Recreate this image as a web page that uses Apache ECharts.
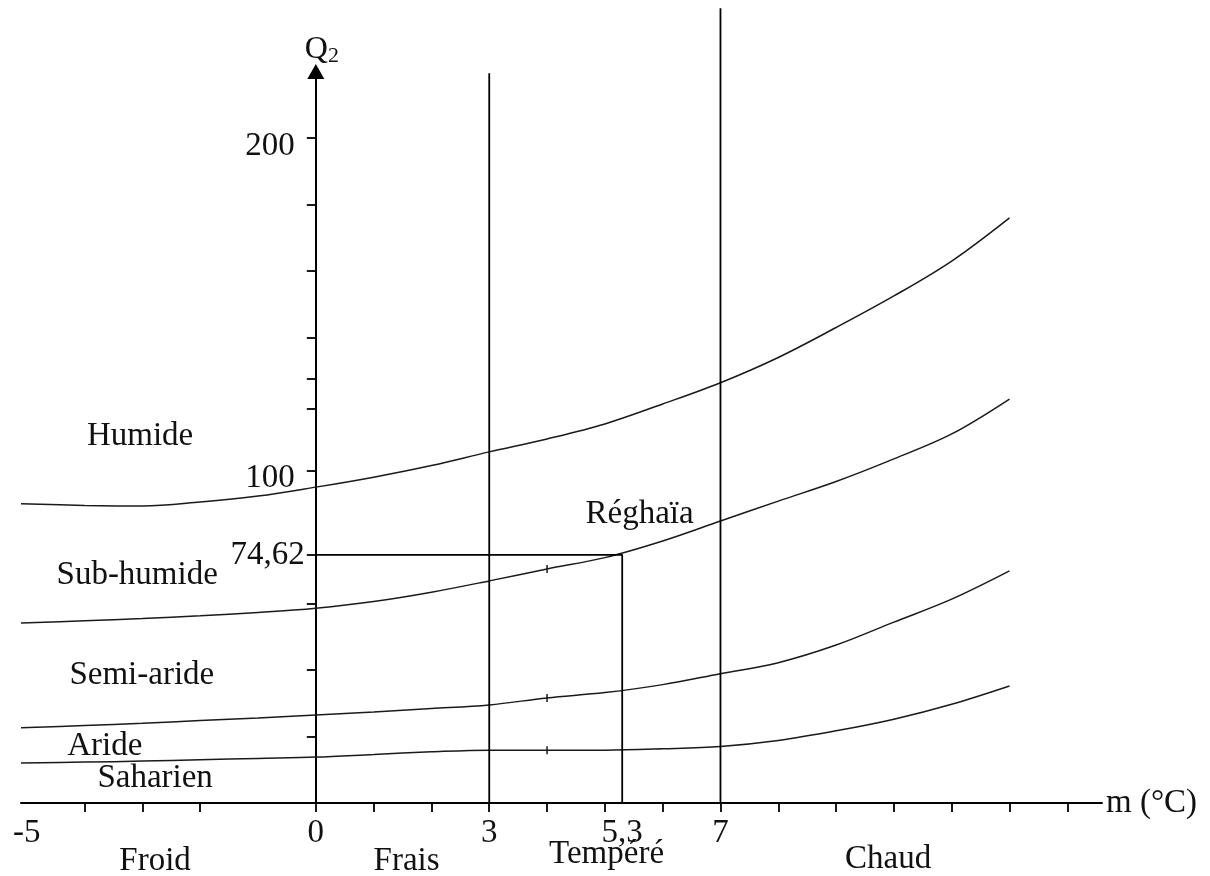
<!DOCTYPE html>
<html>
<head>
<meta charset="utf-8">
<script src="https://cdn.jsdelivr.net/npm/echarts@6/dist/echarts.min.js"></script>
<style>
  html, body { margin: 0; padding: 0; background: #ffffff; }
  #chart { width: 1210px; height: 876px; }
</style>
</head>
<body>
<div id="chart"></div>
<script>
// Climagramme d'Emberger : Q2 en fonction de m (°C)

// Limits between bioclimatic stages, sampled along m
const mValues         = [-5.1, -4, -3, -2, -1, 0, 1, 2, 3, 4, 5, 6, 7, 8, 9, 10, 11, 12];
const limitHumide     = [90, 89.5, 89.3, 90.5, 92.3, 95, 98, 101.5, 105.6, 109.5, 114, 120, 126.4, 134, 143, 152.5, 163, 176];
const limitSubHumide  = [54.1, 54.8, 55.5, 56.3, 57.3, 58.6, 60.6, 63.4, 66.8, 70.4, 73.8, 78.8, 84.8, 90.8, 96.7, 103.5, 111, 121.5];
const limitSemiAride  = [22.6, 23.3, 24.0, 24.8, 25.6, 26.5, 27.4, 28.4, 29.5, 31.6, 33.2, 35.6, 38.9, 42.2, 47.5, 54.4, 61.3, 69.8];
const limitAride      = [12.0, 12.3, 12.6, 13.0, 13.4, 13.8, 14.6, 15.4, 15.9, 15.9, 15.9, 16.3, 17.0, 18.8, 21.7, 25.2, 29.7, 35.2];

// Winter variant boundaries (vertical lines) and how high they are drawn
const winterLimits    = [3, 7];
const winterLimitTops = [219.5, 239];

// Station
const stationName = 'Réghaïa';
const stationM    = 5.3;
const stationQ2   = 74.62;
const stationLabelM  = 5.6;
const stationLabelQ2 = 86.9;

// Bioclimatic stage names
const stageNames    = ['Humide', 'Sub-humide', 'Semi-aride', 'Aride', 'Saharien'];
const stageLabelM   = [-3.04, -3.09, -3.01, -3.65, -2.78];
const stageLabelQ2  = [110.4, 68.4, 38.3, 17.0, 7.4];

// Winter variant names, under the m axis
const winterNames   = ['Froid', 'Frais', 'Tempéré', 'Chaud'];
const winterLabelM  = [-2.78, 1.57, 5.03, 9.9];
const winterLabelQ2 = [-17.4, -17.4, -15.4, -17.0];

// Axis ranges, ticks and labels
const mMin = -5.1, mMax = 13.6;
const q2Min = 0, q2Max = 220;
const mTicks      = [-4, -3, -2, 0, 1, 2, 3, 4, 5, 6, 7, 8, 9, 10, 11, 12, 13];
const mLabels     = [-5, 0, 3, 5.3, 7];
const q2Ticks     = [20, 40, 60, 74.62, 100, 118.5, 127.5, 140, 160, 180, 200];
const q2Labels    = [74.62, 100, 200];
const constructionM = 4;

const FONT = '"Liberation Serif", "Times New Roman", serif';
const INK = '#111111';

const gridBox = { left: 21, right: 108, top: 71.5, bottom: 73 };
const gridWidth = 1210 - gridBox.left - gridBox.right;
// The Q2 axis stands at m = 0: shift it inwards from the grid's left edge
const q2AxisShift = -((0 - mMin) / (mMax - mMin)) * gridWidth;

const frNum = v => String(v).replace('.', ',');

function pairs(xs, ys) { return xs.map((x, i) => [x, ys[i]]); }

const curveStyle = { color: '#1a1a1a', width: 1.5 };
const ruleStyle  = { color: '#000000', width: 1.8 };

function curve(name, values) {
  return {
    name, type: 'line', data: pairs(mValues, values), smooth: 0.35,
    showSymbol: false, silent: true, lineStyle: curveStyle, z: 3
  };
}

function textSeries(name, xs, ys, texts) {
  return {
    name, type: 'scatter', silent: true, clip: false,
    symbolSize: 1, itemStyle: { color: 'transparent', opacity: 1 },
    data: xs.map((x, i) => ({ value: [x, ys[i]], name: texts[i] })),
    label: {
      show: true, position: 'inside', formatter: p => p.name,
      fontFamily: FONT, fontSize: 33, color: INK, opacity: 1
    },
    z: 5
  };
}

const cIdx = mValues.indexOf(constructionM);

const series = [
  curve('Humide / Sub-humide', limitHumide),
  curve('Sub-humide / Semi-aride', limitSubHumide),
  curve('Semi-aride / Aride', limitSemiAride),
  curve('Aride / Saharien', limitAride),
  ...winterLimits.map((m, i) => ({
    type: 'line', silent: true, clip: false, showSymbol: false,
    data: [[m, 0], [m, winterLimitTops[i]]], lineStyle: ruleStyle, z: 4
  })),
  {
    name: stationName, type: 'line', silent: true, showSymbol: false,
    data: [[0, stationQ2], [stationM, stationQ2], [stationM, 0]],
    lineStyle: ruleStyle, z: 4
  },
  {
    type: 'scatter', silent: true, symbol: 'rect', symbolSize: [1.5, 8],
    itemStyle: { color: '#1a1a1a', opacity: 1 },
    data: [limitSubHumide, limitSemiAride, limitAride].map(a => [constructionM, a[cIdx]]),
    z: 4
  },
  textSeries('stages', stageLabelM, stageLabelQ2, stageNames),
  textSeries('winters', winterLabelM, winterLabelQ2, winterNames),
  textSeries('station', [stationLabelM], [stationLabelQ2], [stationName])
];

const chart = echarts.init(document.getElementById('chart'), null, { renderer: 'canvas' });

chart.setOption({
  animation: false,
  backgroundColor: '#ffffff',
  grid: Object.assign({ containLabel: false, outerBoundsMode: 'none' }, gridBox),
  xAxis: {
    type: 'value', min: mMin, max: mMax,
    name: 'm (°C)', nameLocation: 'end', nameGap: 4,
    nameTextStyle: { fontFamily: FONT, fontSize: 33, color: INK, verticalAlign: 'middle', align: 'left' },
    axisLine: { onZero: true, lineStyle: { color: '#000', width: 2 } },
    axisTick: { show: true, customValues: mTicks, length: 9, lineStyle: { color: '#000', width: 1.8 } },
    axisLabel: {
      customValues: mLabels, margin: 14, formatter: v => frNum(v),
      fontFamily: FONT, fontSize: 33, color: INK
    },
    splitLine: { show: false }
  },
  yAxis: {
    type: 'value', min: q2Min, max: q2Max,
    position: 'left', offset: q2AxisShift,
    name: '{q|Q}{s|2}', nameLocation: 'end', nameGap: 4,
    nameTextStyle: {
      align: 'left', padding: [0, 0, 0, -11],
      rich: {
        q: { fontFamily: FONT, fontSize: 32, color: INK },
        s: { fontFamily: FONT, fontSize: 22, color: INK, padding: [14, 0, 0, 0] }
      }
    },
    axisLine: {
      onZero: false, symbol: ['none', 'triangle'], symbolSize: [17, 15],
      lineStyle: { color: '#000', width: 2 }
    },
    axisTick: { show: true, customValues: q2Ticks, length: 9, lineStyle: { color: '#000', width: 1.8 } },
    axisLabel: {
      customValues: q2Labels, margin: 11,
      formatter: v => v === stationQ2 ? '{st|' + frNum(v) + '}' : '{n|' + frNum(v) + '}',
      rich: {
        st: { fontFamily: FONT, fontSize: 33, color: INK },
        n:  { fontFamily: FONT, fontSize: 33, color: INK, padding: [16, 10, 0, 0] }
      }
    },
    splitLine: { show: false }
  },
  series
});
</script>
</body>
</html>
